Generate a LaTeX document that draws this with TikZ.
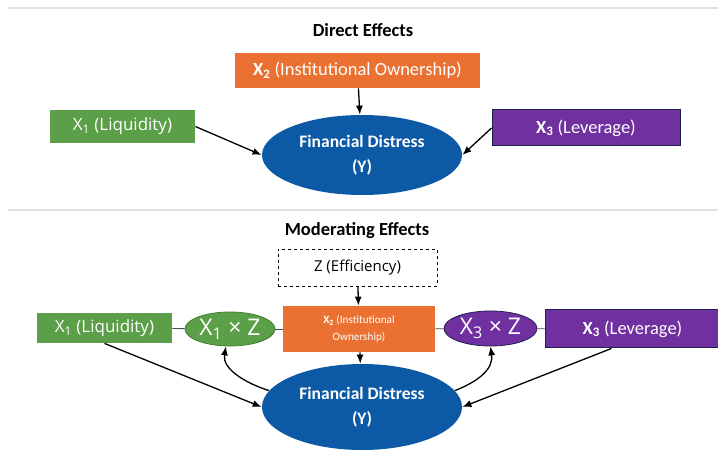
\documentclass[tikz,border=0pt]{standalone}
\usepackage{fontspec}
\setmainfont{Carlito}
\newfontfamily\widefont{Open Sans}
\usetikzlibrary{arrows.meta,shapes.geometric,calc,positioning}

\definecolor{boxorange}{HTML}{EA7132}
\definecolor{boxgreen}{HTML}{5B9F48}
\definecolor{rimgreen}{HTML}{3F7F30}
\definecolor{boxpurple}{HTML}{7030A0}
\definecolor{distressblue}{HTML}{0C5AA6}
\definecolor{darkrim}{HTML}{1F1F4F}

\begin{document}
\begin{tikzpicture}[x=1pt,y=-1pt,thick,
    heading/.style={font=\fontsize{18.5}{22}\selectfont\bfseries},
    var box/.style={rectangle,text=white,inner sep=0pt,align=center},
    green box/.style={var box,fill=boxgreen,font=\widefont\fontsize{17}{19}\selectfont},
    orange box/.style={var box,fill=boxorange,font=\fontsize{18.5}{22}\selectfont},
    purple box/.style={var box,fill=boxpurple,draw=darkrim,line width=1pt,font=\fontsize{18.5}{22}\selectfont},
    outcome/.style={ellipse,fill=distressblue,text=white,inner sep=0pt,align=center,
                    minimum width=200pt,font=\fontsize{17.5}{25}\selectfont\bfseries},
    product/.style={ellipse,inner sep=0pt,text=white,minimum width=91pt,minimum height=34pt,
                    line width=0.8pt,font=\widefont\fontsize{23}{25}\selectfont},
    effect/.style={-{Latex[length=9pt,width=7pt]},line width=1.3pt},
    link/.style={line width=0.8pt,draw=black!70},
    divider/.style={line width=1.5pt,draw=black!12}]
  \useasboundingbox (0,0) rectangle (718,454);

  % separators
  \coordinate (topl) at (8,8);
  \coordinate (topr) at (718,8);
  \coordinate (midl) at (8,210);
  \coordinate (midr) at (718,210);
  \draw[divider] (topl) -- (topr);
  \draw[divider] (midl) -- (midr);

  %Direct effects%
  \node[heading] (direct) at (363,30) {Direct Effects};
  \node[orange box,minimum width=245pt,minimum height=35pt] (x2) at (357.5,70.5)
    {\textbf{X\textsubscript{2}} (Institutional Ownership)};
  \node[green box,minimum width=145pt,minimum height=33pt] (x1) at (122.5,126.5)
    {X\textsubscript{1} (Liquidity)};
  \node[purple box,minimum width=188pt,minimum height=36pt] (x3) at (586,128)
    {\textbf{X\textsubscript{3}} (Leverage)};
  \node[outcome,minimum height=80pt] (y) at (362,155) {Financial Distress\\(Y)};

  \draw[effect] (x2) -- (y);
  \draw[effect] (x1.east) -- (y.west);
  \draw[effect] (x3.west) -- (y.east);

  %Moderating effects%
  \node[heading] (moderating) at (357,231) {Moderating Effects};
  \node[draw,dashed,line width=0.8pt,minimum width=159pt,minimum height=37pt,inner sep=0pt,
        font=\widefont\fontsize{15}{18}\selectfont] (z) at (357.5,267.5) {Z (Efficiency)};
  \node[var box,fill=boxorange,minimum width=152pt,minimum height=46pt,
        font=\fontsize{11.2}{17}\selectfont] (x2m) at (359,329)
    {\textbf{X\textsubscript{2}} (Institutional\\Ownership)};
  \node[green box,minimum width=135pt,minimum height=30pt] (x1m) at (104.5,328)
    {X\textsubscript{1} (Liquidity)};
  \node[product,fill=boxgreen,draw=rimgreen,minimum width=90pt] (x1z) at (230,329)
    {X\textsubscript{1} × Z};
  \node[product,fill=boxpurple,draw=darkrim,minimum width=93pt,minimum height=35pt] (x3z) at (490.5,328.5)
    {X\textsubscript{3} × Z};
  \node[purple box,minimum width=175pt,minimum height=38pt] (x3m) at (632.5,329)
    {\textbf{X\textsubscript{3}} (Leverage)};
  \node[outcome,minimum height=86pt] (ym) at (362,407) {Financial Distress\\(Y)};

  \draw[link] (x1m) -- (x1z);
  \draw[link] (x1z) -- (x2m);
  \draw[link] (x2m) -- (x3z);
  \draw[link] (x3z) -- (x3m);

  \draw[effect] (z) -- (x2m);
  \draw[effect] (x2m) -- (ym);
  \draw[effect] (x1m.south) -- (ym.west);
  \draw[effect] ($(x3m.south west)!0.38!(x3m.south east)$) -- (ym.east);
  \draw[effect] (ym.170) .. controls +(-25,-8) and +(-4,22) .. ([xshift=-4pt]x1z.south);
  \draw[effect] (ym.10) .. controls +(25,-10) and +(3,22) .. (x3z.south);
\end{tikzpicture}
\end{document}
